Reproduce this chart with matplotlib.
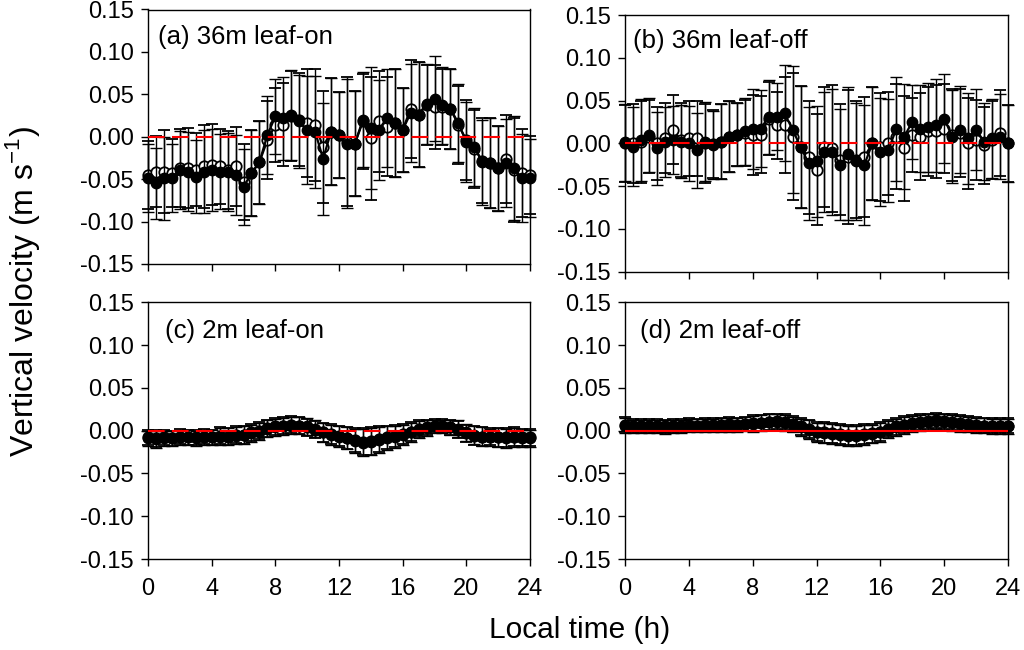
import numpy as np
import matplotlib
matplotlib.use("Agg")
import matplotlib.pyplot as plt

plt.rcParams['font.family'] = ['Liberation Sans', 'DejaVu Sans']

# Local time (h), half-hourly
hours = [i * 0.5 for i in range(49)]

# (a) 36m leaf-on
a_filled = [-0.049, -0.055, -0.049, -0.049, -0.039, -0.041, -0.047, -0.041, -0.039, -0.041,
            -0.041, -0.045, -0.059, -0.043, -0.030, 0.002, 0.024, 0.022, 0.026, 0.018,
            0.008, 0.006, -0.026, 0.006, 0.002, -0.008, -0.008, 0.020, 0.010, 0.008,
            0.022, 0.016, 0.008, 0.028, 0.026, 0.039, 0.045, 0.037, 0.033, 0.016,
            -0.006, -0.012, -0.030, -0.031, -0.037, -0.031, -0.037, -0.049, -0.049]
a_open = [-0.045, -0.041, -0.041, -0.043, -0.037, -0.037, -0.039, -0.035, -0.033, -0.035,
          -0.039, -0.035, -0.053, -0.043, -0.030, -0.004, 0.014, 0.014, 0.024, 0.020,
          0.016, 0.014, -0.012, 0.006, 0.002, -0.006, -0.008, 0.018, -0.002, 0.018,
          0.012, 0.016, 0.008, 0.033, 0.026, 0.037, 0.035, 0.035, 0.033, 0.014,
          -0.004, -0.014, -0.028, -0.031, -0.037, -0.026, -0.039, -0.043, -0.045]
a_err = [0.040, 0.042, 0.049, 0.040, 0.046, 0.047, 0.043, 0.049, 0.048, 0.044,
         0.046, 0.047, 0.045, 0.051, 0.049, 0.046, 0.044, 0.049, 0.053, 0.055,
         0.064, 0.066, 0.066, 0.063, 0.051, 0.076, 0.062, 0.056, 0.072, 0.059,
         0.058, 0.064, 0.050, 0.058, 0.062, 0.047, 0.050, 0.045, 0.047, 0.046,
         0.047, 0.046, 0.050, 0.053, 0.050, 0.052, 0.061, 0.052, 0.046]

# (b) 36m leaf-off
b_filled = [0.001, -0.004, 0.004, 0.010, -0.006, 0.002, 0.004, 0.002, 0.000, -0.008,
            0.002, -0.002, 0.002, 0.008, 0.010, 0.014, 0.017, 0.017, 0.031, 0.031,
            0.035, 0.016, -0.004, -0.023, -0.021, -0.010, -0.010, -0.025, -0.012, -0.021,
            -0.025, 0.000, -0.010, -0.008, 0.017, 0.008, 0.025, 0.017, 0.019, 0.021,
            0.029, 0.008, 0.016, 0.006, 0.016, 0.002, 0.006, 0.008, 0.000]
b_open = [0.000, 0.000, 0.002, 0.008, 0.000, 0.006, 0.016, 0.004, 0.006, 0.006,
          0.000, -0.001, 0.002, 0.008, 0.010, 0.012, 0.010, 0.010, 0.029, 0.021,
          0.021, 0.008, -0.004, -0.016, -0.031, -0.004, -0.006, -0.019, -0.016, -0.019,
          -0.016, 0.000, -0.004, 0.000, 0.008, -0.006, 0.010, 0.008, 0.014, 0.014,
          0.017, 0.010, 0.012, 0.000, 0.004, -0.002, 0.004, 0.012, 0.000]
b_err = [0.045, 0.046, 0.048, 0.043, 0.043, 0.041, 0.040, 0.043, 0.044, 0.044,
         0.046, 0.040, 0.044, 0.042, 0.037, 0.039, 0.047, 0.045, 0.043, 0.039,
         0.056, 0.074, 0.071, 0.066, 0.065, 0.070, 0.074, 0.065, 0.078, 0.068,
         0.070, 0.066, 0.063, 0.060, 0.061, 0.061, 0.043, 0.051, 0.052, 0.054,
         0.052, 0.054, 0.051, 0.053, 0.047, 0.045, 0.046, 0.050, 0.045]

# (c) 2m leaf-on
c_filled = [-0.009, -0.010, -0.009, -0.009, -0.008, -0.008, -0.009, -0.008, -0.008, -0.007,
            -0.007, -0.006, -0.005, -0.003, -0.001, 0.002, 0.004, 0.005, 0.006, 0.006,
            0.005, 0.002, -0.002, -0.005, -0.007, -0.009, -0.012, -0.014, -0.013, -0.011,
            -0.009, -0.007, -0.005, -0.002, 0.001, 0.003, 0.005, 0.005, 0.004, 0.002,
            -0.002, -0.005, -0.007, -0.008, -0.008, -0.009, -0.008, -0.009, -0.009]
c_open = [-0.008, -0.009, -0.008, -0.009, -0.007, -0.008, -0.008, -0.007, -0.008, -0.006,
          -0.007, -0.005, -0.005, -0.002, 0.000, 0.003, 0.005, 0.006, 0.007, 0.006,
          0.004, 0.001, -0.002, -0.004, -0.006, -0.009, -0.011, -0.013, -0.012, -0.010,
          -0.008, -0.006, -0.004, -0.001, 0.002, 0.004, 0.006, 0.006, 0.004, 0.001,
          -0.003, -0.006, -0.007, -0.007, -0.008, -0.008, -0.007, -0.008, -0.008]
c_err = [0.009, 0.010, 0.009, 0.009, 0.009, 0.009, 0.009, 0.009, 0.009, 0.010,
         0.010, 0.010, 0.011, 0.010, 0.010, 0.010, 0.010, 0.010, 0.010, 0.010,
         0.010, 0.010, 0.011, 0.012, 0.012, 0.013, 0.014, 0.016, 0.016, 0.015,
         0.014, 0.013, 0.012, 0.011, 0.010, 0.009, 0.008, 0.008, 0.009, 0.010,
         0.010, 0.011, 0.011, 0.010, 0.011, 0.011, 0.011, 0.010, 0.010]

# (d) 2m leaf-off
d_filled = [0.006, 0.005, 0.005, 0.005, 0.005, 0.004, 0.005, 0.005, 0.006, 0.006,
            0.006, 0.006, 0.007, 0.007, 0.007, 0.008, 0.008, 0.009, 0.010, 0.010,
            0.009, 0.007, 0.004, 0.001, -0.002, -0.003, -0.004, -0.005, -0.006, -0.006,
            -0.005, -0.004, -0.002, 0.001, 0.004, 0.006, 0.008, 0.009, 0.010, 0.011,
            0.010, 0.009, 0.008, 0.007, 0.006, 0.006, 0.005, 0.005, 0.005]
d_open = [0.007, 0.006, 0.006, 0.006, 0.006, 0.005, 0.006, 0.006, 0.007, 0.006,
          0.007, 0.007, 0.007, 0.008, 0.007, 0.008, 0.009, 0.009, 0.010, 0.011,
          0.010, 0.008, 0.005, 0.002, -0.001, -0.002, -0.003, -0.004, -0.005, -0.005,
          -0.004, -0.003, -0.001, 0.002, 0.005, 0.007, 0.009, 0.010, 0.011, 0.012,
          0.011, 0.010, 0.009, 0.008, 0.007, 0.006, 0.006, 0.006, 0.006]
d_err = [0.009, 0.008, 0.008, 0.008, 0.008, 0.008, 0.008, 0.008, 0.008, 0.008,
         0.008, 0.008, 0.008, 0.008, 0.008, 0.008, 0.009, 0.009, 0.009, 0.009,
         0.009, 0.009, 0.010, 0.011, 0.011, 0.012, 0.012, 0.012, 0.012, 0.012,
         0.012, 0.011, 0.011, 0.010, 0.010, 0.010, 0.009, 0.009, 0.009, 0.009,
         0.009, 0.009, 0.009, 0.009, 0.009, 0.009, 0.009, 0.009, 0.009]

panel_labels = ['(a) 36m leaf-on', '(b) 36m leaf-off', '(c) 2m leaf-on', '(d) 2m leaf-off']
x_ticks = [0, 4, 8, 12, 16, 20, 24]
y_ticks = [-0.15, -0.10, -0.05, 0.00, 0.05, 0.10, 0.15]
y_ticklabels = ['-0.15', '-0.10', '-0.05', '0.00', '0.05', '0.10', '0.15']

fig = plt.figure(figsize=(10.24, 6.5), dpi=100)

positions = [
    (148 / 1024, (650 - 264) / 650, 382 / 1024, 254.5 / 650),
    (625 / 1024, (650 - 271.7) / 650, 383 / 1024, 256.7 / 650),
    (148 / 1024, (650 - 559) / 650, 382 / 1024, 256.7 / 650),
    (625 / 1024, (650 - 559) / 650, 383 / 1024, 256.7 / 650),
]
data = [(a_filled, a_open, a_err), (b_filled, b_open, b_err),
        (c_filled, c_open, c_err), (d_filled, d_open, d_err)]
label_pos = [(0.026, 0.89), (0.021, 0.90), (0.044, 0.89), (0.039, 0.89)]
zero_styles = [(0, (8, 3.5)), (0, (8, 3.5)), (0, (8, 3.5)), '-']

for i, (pos, (filled, opened, err)) in enumerate(zip(positions, data)):
    ax = fig.add_axes(pos)
    ax.errorbar(hours, opened, yerr=err, fmt='o-', color='black', mfc='white', mec='black',
                ms=7.5, mew=1.3, lw=1.6, elinewidth=1.0, capsize=4, capthick=1.0,
                zorder=2, clip_on=False)
    ax.errorbar(hours, filled, yerr=err, fmt='o-', color='black', mfc='black', mec='black',
                ms=7.5, lw=1.6, elinewidth=1.0, capsize=4, capthick=1.0,
                zorder=3, clip_on=False)
    ax.axhline(0, color='#ff0000', lw=1.5, ls=zero_styles[i], zorder=4)
    ax.set_xlim(0, 24)
    ax.set_ylim(-0.15, 0.15)
    ax.set_xticks(x_ticks)
    ax.set_yticks(y_ticks)
    ax.set_yticklabels(y_ticklabels)
    if i < 2:
        ax.set_xticklabels([])
    ax.tick_params(direction='out', length=5, width=1, labelsize=17, top=False, right=False)
    ax.tick_params(axis='x', pad=9)
    ax.tick_params(axis='y', pad=5)
    for s in ax.spines.values():
        s.set_linewidth(1)
    ax.text(label_pos[i][0], label_pos[i][1], panel_labels[i], transform=ax.transAxes,
            fontsize=18.5, va='center', ha='left')

fig.text(0.0215, 0.552, 'Vertical velocity (m s$^{\\mathregular{-1}}$)', rotation=90,
         ha='center', va='center', fontsize=23)
fig.text(0.566, 0.031, 'Local time (h)', ha='center', va='center', fontsize=21.5)

fig.savefig('out.png', dpi=100)
